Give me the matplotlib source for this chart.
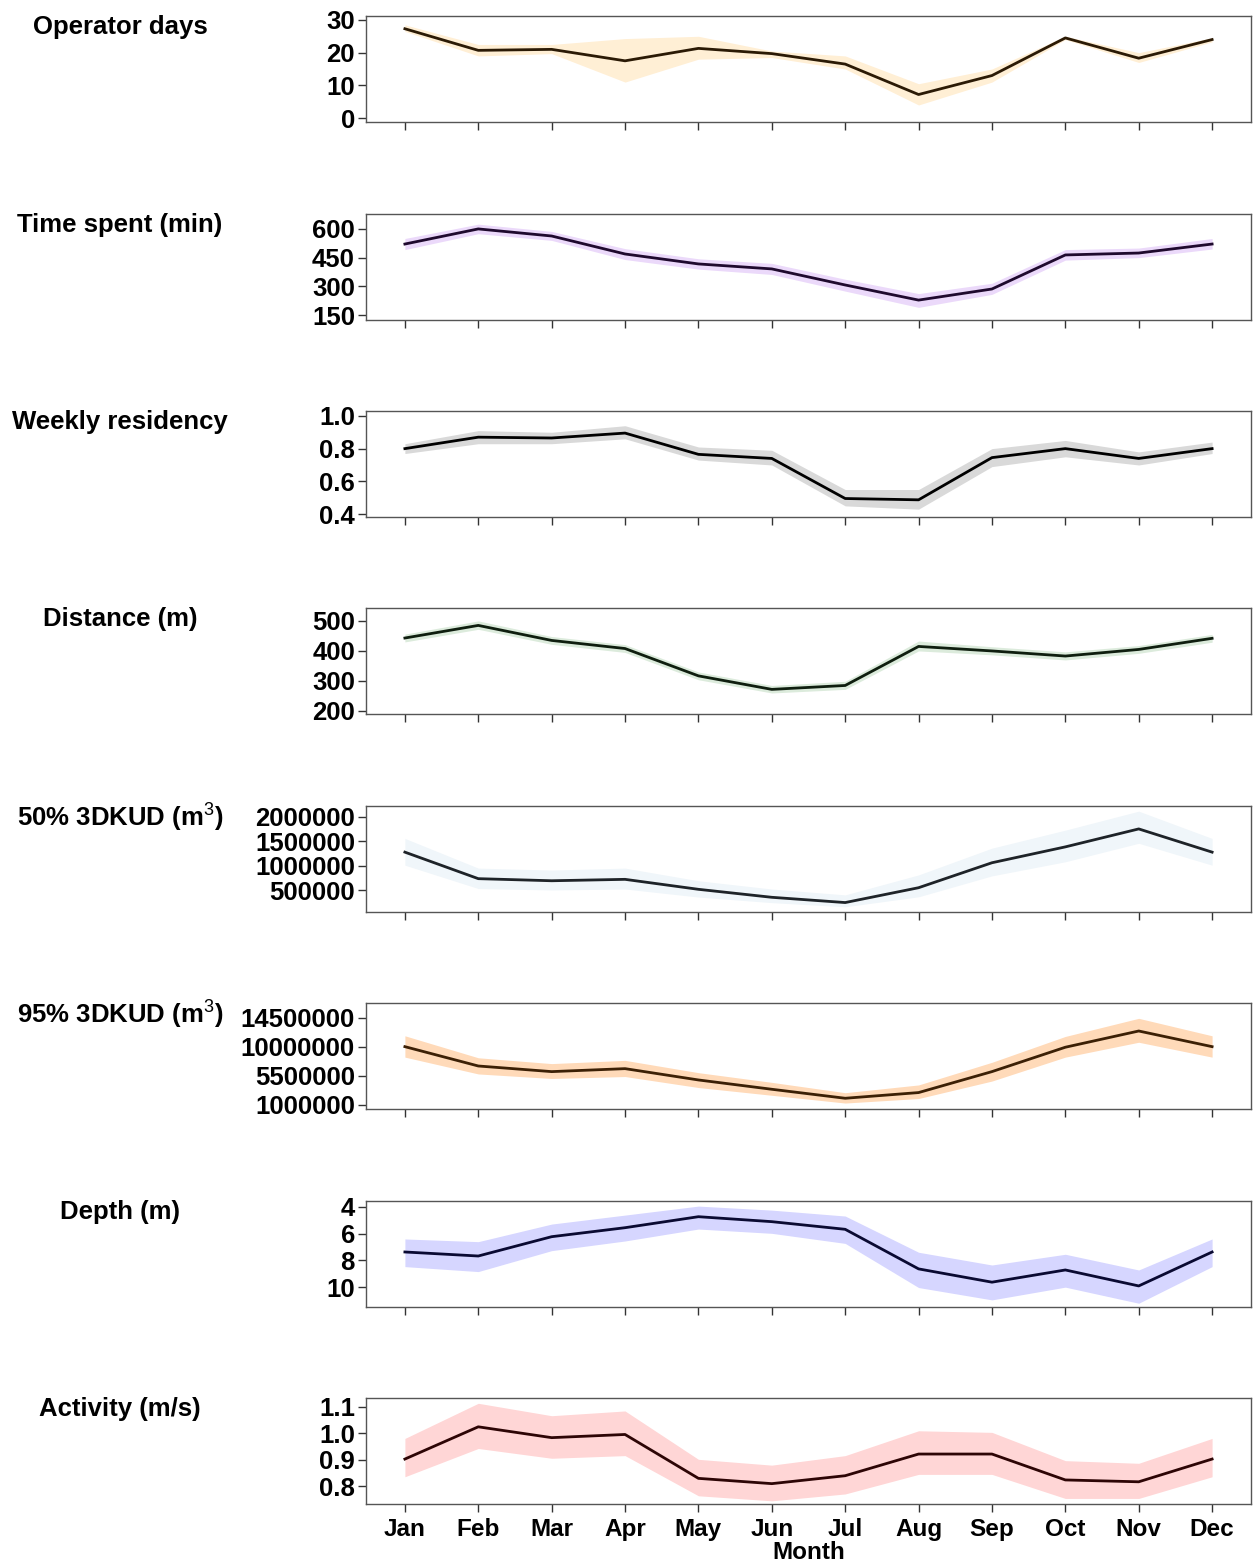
import numpy as np
import matplotlib
matplotlib.use('Agg')
import matplotlib.pyplot as plt

plt.rcParams['font.family'] = ['Liberation Sans', 'DejaVu Sans']
plt.rcParams['font.weight'] = 'bold'
plt.rcParams['mathtext.fontset'] = 'custom'
plt.rcParams['mathtext.rm'] = 'Liberation Sans:weight=normal'

# Datos mensuales (media y banda inferior/superior)
meses = ['Jan', 'Feb', 'Mar', 'Apr', 'May', 'Jun', 'Jul', 'Aug', 'Sep', 'Oct', 'Nov', 'Dec']

operator_days = [27.3, 20.7, 21.0, 17.5, 21.3, 19.7, 16.5, 7.2, 13.0, 24.5, 18.3, 24.0]
operator_lo = [26.5, 19.0, 19.7, 11.0, 18.0, 18.5, 15.0, 4.0, 11.0, 24.0, 17.0, 23.3]
operator_hi = [28.5, 22.5, 22.5, 24.3, 25.0, 20.5, 19.0, 10.5, 15.0, 25.0, 20.0, 24.5]

time_spent = [521, 600, 563, 469, 417, 391, 307, 228, 286, 464, 474, 521]
time_lo = [492, 575, 540, 440, 390, 362, 275, 190, 258, 437, 450, 495]
time_hi = [550, 625, 587, 497, 444, 420, 337, 262, 316, 492, 500, 550]

residency = [0.80, 0.87, 0.865, 0.895, 0.765, 0.74, 0.495, 0.487, 0.745, 0.80, 0.74, 0.80]
residency_lo = [0.77, 0.83, 0.83, 0.86, 0.73, 0.70, 0.45, 0.43, 0.69, 0.75, 0.70, 0.77]
residency_hi = [0.83, 0.91, 0.90, 0.94, 0.81, 0.79, 0.55, 0.55, 0.80, 0.85, 0.78, 0.84]

distance = [443, 485, 435, 408, 317, 272, 285, 415, 400, 383, 405, 442]
distance_lo = [430, 472, 422, 395, 304, 260, 272, 400, 387, 370, 392, 429]
distance_hi = [456, 500, 448, 421, 330, 285, 299, 433, 414, 397, 418, 455]

kud50 = [1278000, 733000, 690000, 719000, 514000, 350000, 242000, 547000, 1060000, 1386000, 1755000, 1278000]
kud50_lo = [1010000, 530000, 500000, 520000, 355000, 240000, 155000, 360000, 790000, 1080000, 1460000, 1010000]
kud50_hi = [1560000, 950000, 910000, 950000, 690000, 520000, 400000, 810000, 1360000, 1730000, 2120000, 1560000]

kud95 = [10020000, 7030000, 6160000, 6620000, 4870000, 3430000, 2040000, 2920000, 6160000, 9930000, 12440000, 10020000]
kud95_lo = [8400000, 5800000, 5100000, 5400000, 3700000, 2500000, 1300000, 2000000, 4700000, 8400000, 10700000, 8400000]
kud95_hi = [11700000, 8300000, 7400000, 7900000, 6000000, 4500000, 2900000, 4100000, 7600000, 11600000, 14400000, 11700000]

depth = [7.37, 7.67, 6.23, 5.56, 4.74, 5.11, 5.68, 8.63, 9.62, 8.71, 9.90, 7.37]
depth_lo = [6.40, 6.60, 5.29, 4.62, 3.95, 4.25, 4.69, 7.39, 8.34, 7.54, 8.71, 6.40]
depth_hi = [8.46, 8.83, 7.27, 6.55, 5.66, 5.98, 6.73, 10.02, 10.94, 9.99, 11.19, 8.46]

activity = [0.902, 1.024, 0.983, 0.995, 0.829, 0.809, 0.839, 0.921, 0.921, 0.823, 0.816, 0.902]
activity_lo = [0.835, 0.942, 0.905, 0.915, 0.763, 0.744, 0.770, 0.844, 0.844, 0.753, 0.753, 0.835]
activity_hi = [0.980, 1.113, 1.066, 1.084, 0.901, 0.879, 0.915, 1.009, 1.003, 0.896, 0.886, 0.980]

# (etiqueta, media, inferior, superior, relleno, linea, ylim, yticks)
paneles = [
    ('Operator days', operator_days, operator_lo, operator_hi, '#FFEFD5', '#2B1A05',
     (-1.2, 31.2), [0, 10, 20, 30]),
    ('Time spent (min)', time_spent, time_lo, time_hi, '#EBD9FA', '#1F0A2E',
     (124, 678), [150, 300, 450, 600]),
    ('Weekly residency', residency, residency_lo, residency_hi, '#D9D9D9', '#000000',
     (0.382, 1.03), [0.4, 0.6, 0.8, 1.0]),
    ('Distance (m)', distance, distance_lo, distance_hi, '#DCEBDC', '#0F1E0F',
     (190, 543), [200, 300, 400, 500]),
    ('50% 3DKUD (m$^{3}$)', kud50, kud50_lo, kud50_hi, '#F0F6FA', '#1E2328',
     (48000, 2226000), [500000, 1000000, 1500000, 2000000]),
    ('95% 3DKUD (m$^{3}$)', kud95, kud95_lo, kud95_hi, '#FFDAB9', '#3C2005',
     (380000, 16770000), [1000000, 5500000, 10000000, 14500000]),
    ('Depth (m)', depth, depth_lo, depth_hi, '#D6D6FF', '#0A0A32',
     (11.47, 3.57), [4, 6, 8, 10]),
    ('Activity (m/s)', activity, activity_lo, activity_hi, '#FFD6D6', '#2D0505',
     (0.732, 1.133), [0.8, 0.9, 1.0, 1.1]),
]

W, H = 1253, 1567
fig = plt.figure(figsize=(W / 100, H / 100), dpi=100)
x = np.arange(len(meses))

tops = [16, 214, 411, 608, 806, 1003, 1201, 1398]
alto = 106
izq, der = 366, 1251

for i, (etiqueta, media, lo, hi, relleno, linea, ylim, yticks) in enumerate(paneles):
    top = tops[i]
    ax = fig.add_axes([izq / W, 1 - (top + alto) / H, (der - izq) / W, alto / H])
    ax.fill_between(x, lo, hi, color=relleno, linewidth=0)
    ax.plot(x, media, color=linea, linewidth=2)
    ax.set_xlim(-0.53, 11.53)
    ax.set_ylim(*ylim)
    ax.set_yticks(yticks)
    ax.set_yticklabels([str(t) for t in yticks])
    ax.set_xticks(x)
    if i == len(paneles) - 1:
        ax.set_xticklabels(meses, fontsize=17.5, fontweight='bold')
        ax.set_xlabel('Month', fontsize=17.5, fontweight='bold', labelpad=0)
    else:
        ax.set_xticklabels([])
    ax.tick_params(axis='both', direction='out', length=6, width=1, color='#333333')
    ax.tick_params(axis='y', labelsize=18.5, pad=2)
    ax.tick_params(axis='x', pad=4)
    for s in ax.spines.values():
        s.set_color('#555555')
        s.set_linewidth(1)
    fig.text(120 / W, 1 - (top + 11) / H, etiqueta, ha='center', va='center',
             fontsize=18.5, fontweight='bold')

fig.savefig('out.png', dpi=100)
